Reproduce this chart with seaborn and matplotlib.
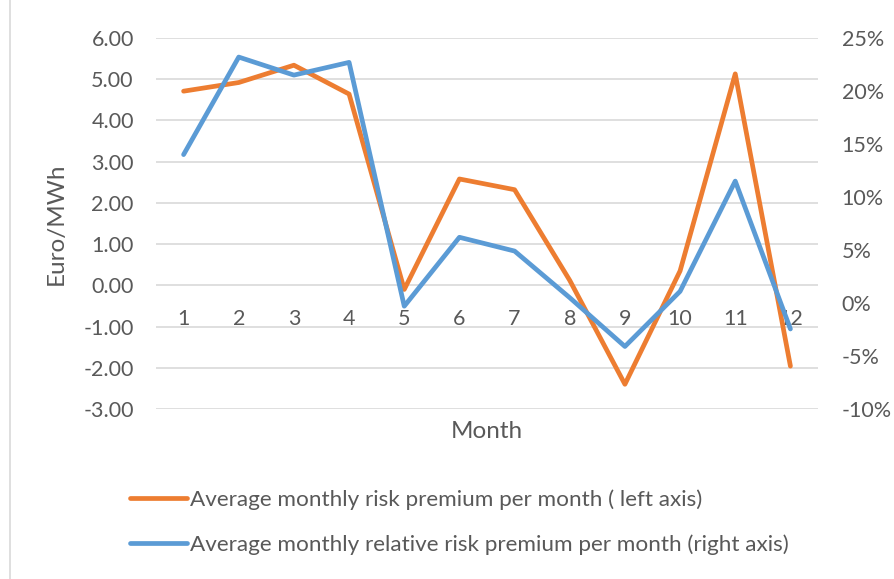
import matplotlib
matplotlib.use("Agg")
import matplotlib.pyplot as plt
import matplotlib.ticker as mticker
from matplotlib.patches import Rectangle
from matplotlib.lines import Line2D
import seaborn as sns

months = list(range(1, 13))
month_labels = [str(m) for m in months]
risk_premium = [4.71, 4.92, 5.34, 4.64, -0.10, 2.58, 2.32, 0.12, -2.40, 0.35, 5.13, -1.96]
relative_premium = [0.140, 0.232, 0.215, 0.227, -0.003, 0.062, 0.049, 0.005, -0.041, 0.011, 0.115, -0.0245]

left_label = "Average monthly risk premium per month ( left axis)"
right_label = "Average monthly relative risk premium per month (right axis)"

sns.set_style("white")
plt.rcParams['font.family'] = ['Lato', 'DejaVu Sans']

ORANGE = '#ED7D31'
BLUE = '#5B9BD5'
TXT = '#595959'
GRID = '#D9D9D9'

fig = plt.figure(figsize=(8.95, 5.79), dpi=100)
ax = fig.add_axes([156 / 895, 1 - 409 / 579, (818 - 156) / 895, (409 - 38) / 579])
ax2 = ax.twinx()

sns.lineplot(x=months, y=risk_premium, ax=ax, color=ORANGE, linewidth=3.4, zorder=3)
sns.lineplot(x=months, y=relative_premium, ax=ax2, color=BLUE, linewidth=3.4, zorder=3)

ax.set_xlim(0.5, 12.5)
ax.set_ylim(-3, 6)
ax.set_yticks(range(-3, 7))
ax.yaxis.set_major_formatter(mticker.FuncFormatter(lambda v, p: f"{v:.2f}"))
ax.grid(axis='y', color=GRID, linewidth=1.2)
ax.set_axisbelow(True)

ax2.set_ylim(-0.10, 0.25)
ax2.set_yticks([-0.10, -0.05, 0, 0.05, 0.10, 0.15, 0.20, 0.25])
ax2.yaxis.set_major_formatter(mticker.FuncFormatter(lambda v, p: f"{round(v * 100):d}%"))

for a in (ax, ax2):
    for s in a.spines.values():
        s.set_visible(False)
    a.tick_params(axis='y', length=0, labelsize=15.5, labelcolor=TXT)

ax.spines['bottom'].set_position(('data', 0))
ax.set_xticks(months)
ax.set_xticklabels(month_labels)
ax.tick_params(axis='x', length=0, pad=17, labelsize=15.5, labelcolor=TXT)
ax.tick_params(axis='y', pad=16)
ax2.tick_params(axis='y', pad=17)

ax.set_ylabel("Euro/MWh", fontsize=17.5, color=TXT, labelpad=12)
ax2.set_ylabel("")
fig.text(487 / 895, 1 - 431 / 579, "Month", ha='center', va='center', fontsize=17.5, color=TXT)

handles = [Line2D([], [], color=ORANGE, linewidth=3.4, solid_capstyle='round'),
           Line2D([], [], color=BLUE, linewidth=3.4, solid_capstyle='round')]
fig.legend(handles, [left_label, right_label], loc='center left',
           bbox_to_anchor=(130 / 895, 1 - 522 / 579), frameon=False,
           fontsize=16.2, labelcolor=TXT, handlelength=2.55, handletextpad=0.1,
           labelspacing=1.1, borderpad=0, borderaxespad=0)

fig.patches.append(Rectangle((10 / 895, -0.01), 1.0, 1.02, transform=fig.transFigure,
                             fill=False, edgecolor='#D9D9D9', linewidth=1.2))

fig.savefig("out.png", dpi=100)
